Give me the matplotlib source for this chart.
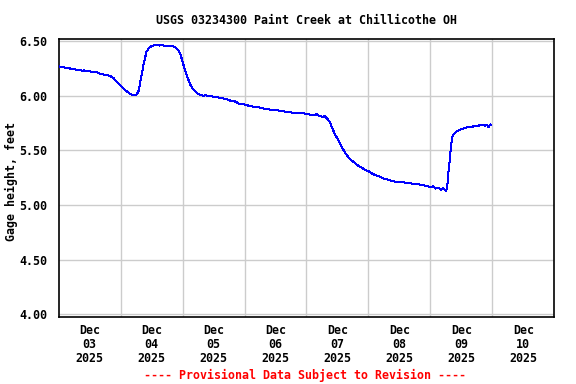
import numpy as np
import matplotlib
matplotlib.use("Agg")
import matplotlib.pyplot as plt
import matplotlib.dates as mdates
from matplotlib.ticker import FixedLocator, NullFormatter


OUTPUT_NAME = "out.png"

TITLE = "USGS 03234300 Paint Creek at Chillicothe OH"
Y_LABEL = "Gage height, feet"
FOOTER = "---- Provisional Data Subject to Revision ----"

START = np.datetime64("2025-12-03T00:00")
END = np.datetime64("2025-12-11T00:00")

# hours after Dec 03 00:00
hours = [
    0, 1, 2, 3, 4, 5, 6, 7, 8, 9, 10, 11, 12, 13, 14, 15, 16, 17, 18, 19,
    20, 21, 22, 23, 24, 25, 26, 27, 28, 29, 30, 31, 32, 33, 34, 35, 36, 37,
    38, 39, 40, 41, 42, 43, 44, 45, 46, 47, 48, 49, 50, 51, 52, 53, 54, 55,
    56, 57, 58, 59, 60, 62, 64, 66, 67, 68, 70, 72, 74, 76, 78, 80, 82, 84,
    86, 88, 90, 92, 94, 96, 98, 100, 101, 102, 103, 104, 105, 106, 107, 108,
    109, 110, 111, 112, 113, 114, 115, 116, 117, 118, 119, 120, 121, 122,
    124, 126, 128, 130, 132, 134, 136, 138, 140, 142, 144, 145, 146, 147,
    148, 149, 150, 150.5, 151, 151.5, 152, 152.5, 153, 154, 155, 156, 157,
    158, 159, 160, 161, 162, 163, 164, 165, 166, 166.5, 167, 167.4,
]

gage_ft = [
    6.268, 6.262, 6.258, 6.250, 6.252, 6.240, 6.243, 6.234, 6.236, 6.228,
    6.230, 6.222, 6.224, 6.216, 6.219, 6.212, 6.200, 6.196, 6.190, 6.186,
    6.178, 6.165, 6.140, 6.112, 6.092, 6.066, 6.044, 6.028, 6.012, 6.006,
    6.001, 6.045, 6.175, 6.298, 6.400, 6.436, 6.452, 6.462, 6.466, 6.458,
    6.462, 6.455, 6.458, 6.452, 6.454, 6.446, 6.425, 6.389, 6.310, 6.225,
    6.160, 6.100, 6.058, 6.038, 6.014, 6.005, 5.998, 6.004, 5.993, 5.996,
    5.988, 5.982, 5.972, 5.960, 5.946, 5.950, 5.925, 5.918, 5.905, 5.896,
    5.890, 5.878, 5.872, 5.866, 5.862, 5.851, 5.846, 5.840, 5.843, 5.832,
    5.824, 5.828, 5.815, 5.806, 5.812, 5.790, 5.760, 5.700, 5.648, 5.605,
    5.565, 5.515, 5.475, 5.445, 5.415, 5.398, 5.378, 5.360, 5.345, 5.332,
    5.318, 5.310, 5.292, 5.280, 5.262, 5.240, 5.228, 5.214, 5.210, 5.205,
    5.198, 5.192, 5.186, 5.175, 5.165, 5.170, 5.150, 5.158, 5.140, 5.155,
    5.125, 5.160, 5.300, 5.410, 5.545, 5.620, 5.645, 5.670, 5.682, 5.692,
    5.700, 5.708, 5.716, 5.712, 5.722, 5.718, 5.728, 5.735, 5.725, 5.732,
    5.710, 5.728, 5.735,
]

y_ticks = [4.00, 4.50, 5.00, 5.50, 6.00, 6.50]
day_labels = ["Dec\n03\n2025", "Dec\n04\n2025", "Dec\n05\n2025", "Dec\n06\n2025",
              "Dec\n07\n2025", "Dec\n08\n2025", "Dec\n09\n2025", "Dec\n10\n2025"]


def main():
    plt.rcParams["font.family"] = ["DejaVu Sans Mono"]
    plt.rcParams["font.weight"] = "bold"

    times = START + (np.array(hours) * 60).astype("timedelta64[m]")
    times = times.astype("datetime64[ms]").astype(object)

    fig = plt.figure(figsize=(5.76, 3.84), dpi=100)
    ax = fig.add_axes([0.1019, 0.1753, 0.8604, 0.7224])

    ax.plot(times, gage_ft, color="#0000ff", linewidth=0.72, antialiased=False, zorder=3)

    ax.set_xlim(START.astype(object), END.astype(object))
    ax.set_ylim(3.978, 6.515)

    # grid at midnight, labels at noon
    midnights = [START + np.timedelta64(d, "D") for d in range(1, 8)]
    noons = [START + np.timedelta64(d * 24 + 12, "h") for d in range(8)]
    ax.xaxis.set_major_locator(FixedLocator(mdates.date2num([m.astype(object) for m in midnights])))
    ax.xaxis.set_major_formatter(NullFormatter())
    ax.set_xticks(mdates.date2num([n.astype(object) for n in noons]), labels=day_labels, minor=True)
    ax.tick_params(axis="x", which="both", length=0)
    ax.tick_params(axis="x", which="minor", pad=5, labelsize=8.4)
    for lab in ax.get_xticklabels(minor=True):
        lab.set_linespacing(1.12)
        lab.set_fontweight("bold")

    ax.set_yticks(y_ticks, labels=[f"{v:.2f}" for v in y_ticks])
    ax.tick_params(axis="y", length=0, pad=8, labelsize=8.4)

    ax.grid(True, which="major", color="#cccccc", linewidth=1.0)
    ax.set_axisbelow(True)
    for spine in ax.spines.values():
        spine.set_color("black")
        spine.set_linewidth(1.2)

    fig.text(306 / 576, 1 - 20 / 384, TITLE, ha="center", va="center",
             fontsize=8.4, fontweight="bold")
    fig.text(11 / 576, 1 - 182 / 384, Y_LABEL, ha="center", va="center",
             rotation=90, fontsize=8.4, fontweight="bold")
    fig.text(305 / 576, 1 - 375 / 384, FOOTER, ha="center", va="center",
             fontsize=8.4, fontweight="bold", color="#ff0000")

    fig.savefig(OUTPUT_NAME, dpi=100)
    plt.close(fig)


if __name__ == "__main__":
    main()
